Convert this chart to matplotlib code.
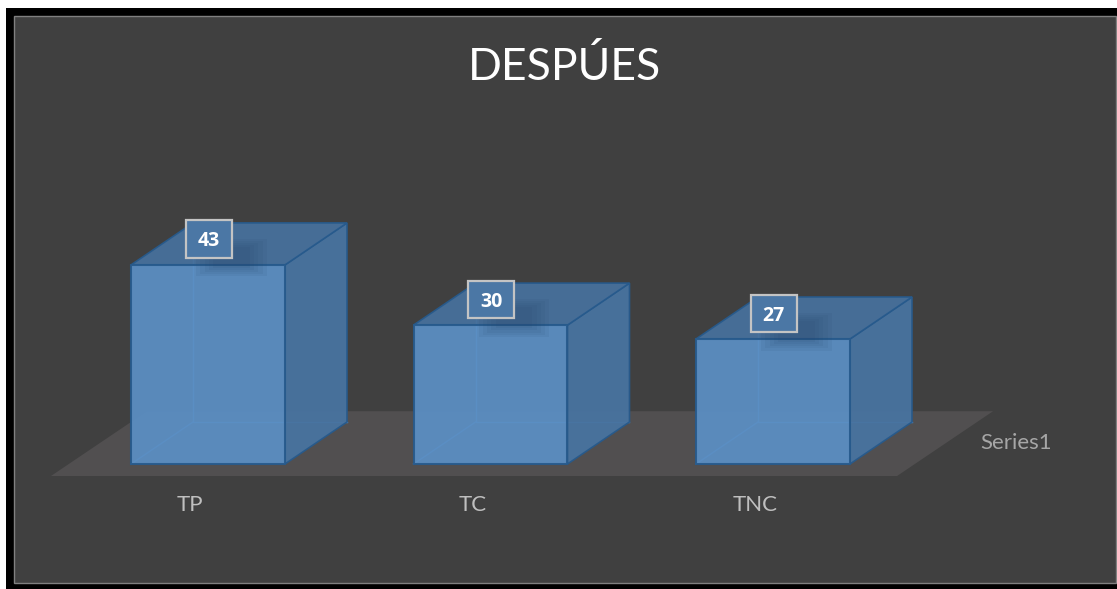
import matplotlib.pyplot as plt
from matplotlib.patches import Polygon, Rectangle
import numpy as np

categories = ['TP', 'TC', 'TNC']
values = [43, 30, 27]
series_name = 'Series1'
title = 'DESPÚES'

plt.rcParams['font.family'] = ['Lato', 'DejaVu Sans']

W, H = 1117, 589
fig = plt.figure(figsize=(W / 100, H / 100), dpi=100, facecolor='white')

# frame: black band, then dark panel with thin grey edge
fig.add_artist(Rectangle((6 / W, 0), 1, (H - 8) / H, transform=fig.transFigure,
                         facecolor='black', edgecolor='none', zorder=0))
fig.add_artist(Rectangle((14 / W, 6 / H), 1102 / W, 567 / H, transform=fig.transFigure,
                         facecolor='#404040', edgecolor='#808080', lw=1, zorder=0))

ax = fig.add_axes([0, 0, 1, 1])
ax.set_facecolor('none')
ax.axis('off')
# one category step = 282.5 px, one value unit = 4.63 px
ax.set_xlim(-208 / 282.5, (W - 208) / 282.5)
ax.set_ylim(-(H - 464) / 4.63, 464 / 4.63)

bw = 0.545            # bar width (category units)
ddx, ddy = 0.2195, 9.07   # oblique depth offset for bars
fdx, fdy = 0.34, 14.0     # floor depth offset

# floor
fx0, fx1, fy = -0.556, 2.439, -2.6
ax.add_patch(Polygon([(fx0, fy), (fx1, fy), (fx1 + fdx, fy + fdy), (fx0 + fdx, fy + fdy)],
                     closed=True, facecolor='#514f50', edgecolor='none', zorder=1))

front_c = '#5b8fc4'
top_c = '#47709c'
side_c = '#4873a0'
edge_c = '#275a8c'

for i, v in enumerate(values):
    x0, x1 = i - bw / 2, i + bw / 2
    # hidden back edges seen through the translucent faces
    bx0, by0 = x0 + ddx, ddy
    ax.plot([bx0, bx0, x1 + ddx], [v + ddy, by0, by0], color='#4f86bf', lw=1, zorder=2)
    ax.plot([x0, bx0], [0, by0], color='#4f86bf', lw=1, zorder=2)
    # side face
    ax.add_patch(Polygon([(x1, 0), (x1 + ddx, ddy), (x1 + ddx, v + ddy), (x1, v)],
                         closed=True, facecolor=side_c, edgecolor=edge_c, lw=1.2,
                         alpha=0.95, zorder=3))
    # top face
    ax.add_patch(Polygon([(x0, v), (x1, v), (x1 + ddx, v + ddy), (x0 + ddx, v + ddy)],
                         closed=True, facecolor=top_c, edgecolor=edge_c, lw=1.2,
                         alpha=0.95, zorder=3))
    # front face
    ax.add_patch(Polygon([(x0, 0), (x1, 0), (x1, v), (x0, v)],
                         closed=True, facecolor=front_c, edgecolor=edge_c, lw=1.5,
                         alpha=0.93, zorder=4))
    # soft shadow of the label box (stacked translucent rectangles)
    cx, cy = i + 0.003, v + 5.6
    for k in range(5):
        gw, gh = 0.13 + 0.03 * k, 4.6 + 0.9 * k
        ax.add_patch(Rectangle((cx + 0.08 - gw / 2, cy - 4.0 - gh / 2), gw, gh,
                               facecolor='#25456a', edgecolor='none', alpha=0.08,
                               zorder=4.5))
    # label box
    bwid, bhei = 0.163, 8.0
    ax.add_patch(Rectangle((cx - bwid / 2, cy - bhei / 2), bwid, bhei,
                           facecolor='#4b77a5', edgecolor='#c4c4c4', lw=1.6, zorder=5))
    ax.text(cx, cy, str(v), ha='center', va='center_baseline', color='white',
            fontsize=14, fontweight='bold', family=['Open Sans', 'DejaVu Sans'],
            zorder=6)
    # category label at the floor's front edge
    ax.text(i - 0.064, -8.8, categories[i], ha='center', va='center',
            color='#bfbfbf', fontsize=16, zorder=6)

ax.text(2.862, 4.5, series_name, ha='center', va='center', color='#a6a6a6',
        fontsize=16, zorder=6)

fig.text(565 / W, 1 - 67 / H, title, ha='center', va='center', color='white',
         fontsize=32, zorder=6)

fig.savefig('out.png', dpi=100, facecolor=fig.get_facecolor())
